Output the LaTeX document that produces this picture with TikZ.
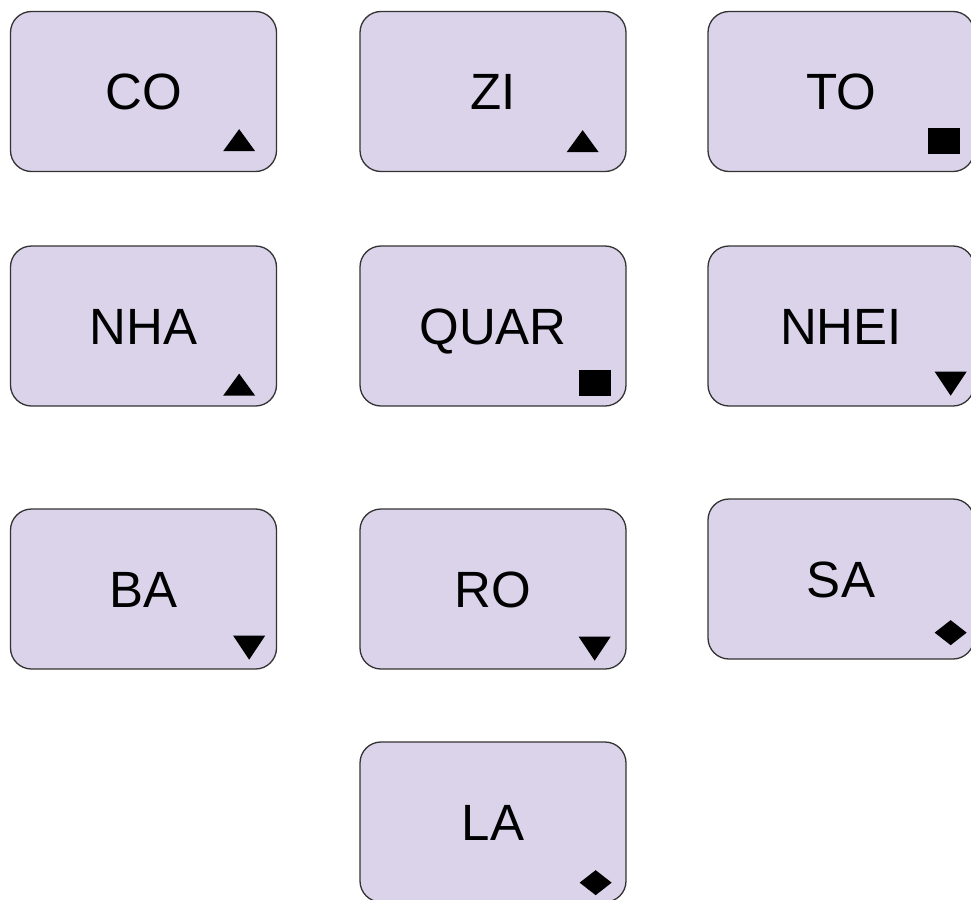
\documentclass[tikz,border=0pt]{standalone}
\usepackage{fontspec}
\setmainfont{Liberation Sans}
\usepackage{tikz}
\usetikzlibrary{positioning}
\definecolor{cardfill}{HTML}{DAD3EA}

\begin{document}
\begin{tikzpicture}[
    x=1pt, y=-1pt,
    card/.style={rectangle, rounded corners=21pt, draw=black!80, line width=1.3pt, fill=cardfill,
        minimum width=266pt, minimum height=160pt, inner sep=0pt,
        text height=36.5pt, text depth=0pt,
        font=\fontsize{51}{60}\selectfont},
    triup/.pic={\fill (-16,0) -- (16,0) -- (0,-22) -- cycle;},
    tridown/.pic={\fill (-16,-24) -- (16,-24) -- (0,0) -- cycle;},
    sqmark/.pic={\fill (-16,0) rectangle (16,-26);},
    dmmark/.pic={\fill (-16,0) -- (0,-12.5) -- (16,0) -- (0,12.5) -- cycle;}
]
\useasboundingbox (0,0) rectangle (971,899);

% First row
\node[card] (co) at (143.5,91.5) {CO};
\node[card] (zi) at (493,91.5) {ZI};
\node[card] (to) at (841,91.5) {TO};

% Second row
\node[card] (nha) at (143.5,326) {NHA};
\node[card] (quar) at (493,326) {QUAR};
\node[card] (nhei) at (841,326) {NHEI};

% Third row
\node[card] (ba) at (143.5,589) {BA};
\node[card] (ro) at (493,589) {RO};
\node[card] (sa) at (841,579) {SA};

% Last one
\node[card] (la) at (493,822) {LA};

% Corner marks
\pic at ([shift={(-38,-21)}]co.south east) {triup};
\pic at ([shift={(-44,-20)}]zi.south east) {triup};
\pic at ([shift={(-31,-18)}]to.south east) {sqmark};
\pic at ([shift={(-38,-11)}]nha.south east) {triup};
\pic at ([shift={(-31.5,-11)}]quar.south east) {sqmark};
\pic at ([shift={(-24,-11)}]nhei.south east) {tridown};
\pic at ([shift={(-28,-10)}]ba.south east) {tridown};
\pic at ([shift={(-32,-9)}]ro.south east) {tridown};
\pic at ([shift={(-24,-27)}]sa.south east) {dmmark};
\pic at ([shift={(-31,-20)}]la.south east) {dmmark};

\end{tikzpicture}
\end{document}
